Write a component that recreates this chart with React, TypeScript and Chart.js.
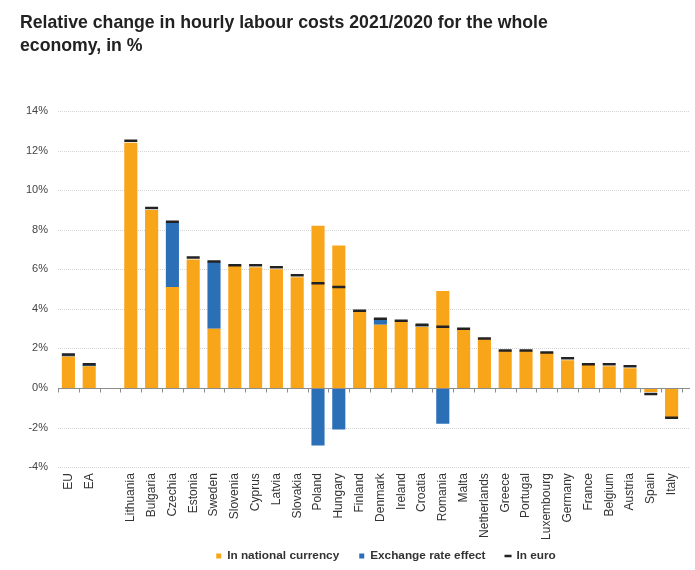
import React, { useEffect, useRef } from 'react';
import { Chart, registerables } from 'chart.js';

Chart.register(...registerables);

const categories = [
  'EU', 'EA', '', 'Lithuania', 'Bulgaria', 'Czechia', 'Estonia', 'Sweden', 'Slovenia',
  'Cyprus', 'Latvia', 'Slovakia', 'Poland', 'Hungary', 'Finland', 'Denmark', 'Ireland',
  'Croatia', 'Romania', 'Malta', 'Netherlands', 'Greece', 'Portugal', 'Luxembourg',
  'Germany', 'France', 'Belgium', 'Austria', 'Spain', 'Italy',
];

const nationalCurrency = [
  1.6, 1.1, null, 12.4, 9.0, 5.1, 6.5, 3.0, 6.2, 6.1, 6.0, 5.6, 8.2, 7.2, 3.9, 3.2, 3.4,
  3.1, 4.9, 3.0, 2.5, 1.9, 1.9, 1.8, 1.4, 1.2, 1.1, 1.0, -0.2, -1.5,
];

const exchangeRateEffect = [
  0.1, 0.1, null, 0, 0, 3.3, 0, 3.4, 0, 0, 0, 0, -2.9, -2.1, 0, 0.3, 0,
  0.1, -1.8, 0, 0, 0, 0, 0, 0, 0, 0, 0, 0, 0,
];

const inEuro = [
  1.7, 1.2, null, 12.5, 9.1, 8.4, 6.6, 6.4, 6.2, 6.2, 6.1, 5.7, 5.3, 5.1, 3.9, 3.5, 3.4,
  3.2, 3.1, 3.0, 2.5, 1.9, 1.9, 1.8, 1.5, 1.2, 1.2, 1.1, -0.3, -1.5,
];

const yMin = -4;
const yMax = 14;
const yStep = 2;

const FONT = '"Liberation Sans", Arial, sans-serif';

// dotted grid lines + zero axis with small tick marks
const axisLines = {
  id: 'axisLines',
  afterLayout(chart: any) {
    // nudge the legend to where it sits in the original
    const lg = chart.legend;
    if (lg) {
      lg.left += 16;
      lg.right += 16;
      lg.top -= 10;
      lg.bottom -= 10;
    }
  },
  beforeDatasetsDraw(chart: any) {
    const { ctx, chartArea, scales } = chart;
    const y = scales.y;
    ctx.save();
    ctx.strokeStyle = '#d4d4d4';
    ctx.lineWidth = 1;
    ctx.setLineDash([1, 1]);
    y.ticks.forEach((t: any) => {
      if (t.value === 0) return;
      const py = Math.round(y.getPixelForValue(t.value)) + 0.5;
      ctx.beginPath();
      ctx.moveTo(chartArea.left, py);
      ctx.lineTo(chartArea.right + 8, py);
      ctx.stroke();
    });
    ctx.restore();
  },
  afterDatasetsDraw(chart: any) {
    const { ctx, chartArea, scales } = chart;
    const x = scales.x;
    const py = Math.round(scales.y.getPixelForValue(0)) + 0.5;
    ctx.save();
    ctx.strokeStyle = '#8c8c8c';
    ctx.lineWidth = 1;
    ctx.beginPath();
    ctx.moveTo(chartArea.left, py);
    ctx.lineTo(chartArea.right + 8, py);
    const w = x.width / categories.length;
    for (let i = 0; i <= categories.length; i++) {
      const px = Math.round(x.left + i * w) + 0.5;
      ctx.moveTo(px, py);
      ctx.lineTo(px, py + 4);
    }
    ctx.stroke();
    ctx.restore();
  },
};

const App = () => {
  const chartRef = useRef<HTMLCanvasElement>(null);

  useEffect(() => {
    document.body.style.margin = '0';
    if (!chartRef.current) return;
    const myChart = new Chart(chartRef.current, {
      type: 'bar',
      data: {
        labels: categories,
        datasets: [
          {
            label: 'In national currency',
            data: nationalCurrency,
            backgroundColor: '#F9A51A',
            borderWidth: 0,
            stack: 'a',
            pointStyle: 'rect',
            categoryPercentage: 1,
            barPercentage: 0.63,
          } as any,
          {
            label: 'Exchange rate effect',
            data: exchangeRateEffect,
            backgroundColor: '#2B6FB7',
            borderWidth: 0,
            stack: 'a',
            pointStyle: 'rect',
            categoryPercentage: 1,
            barPercentage: 0.63,
          },
          {
            type: 'line',
            label: 'In euro',
            data: inEuro,
            showLine: false,
            pointStyle: 'line',
            pointRadius: 6.5,
            pointHoverRadius: 6.5,
            pointBorderWidth: 2.5,
            borderColor: '#222222',
            backgroundColor: '#222222',
            stack: 'euro',
            order: -1,
          },
        ],
      },
      options: {
        animation: false,
        responsive: true,
        maintainAspectRatio: false,
        events: [],
        layout: { padding: { top: 111, right: 13, left: 0, bottom: -12 } },
        scales: {
          x: {
            stacked: true,
            grid: { display: false, drawTicks: false },
            border: { display: false },
            afterFit: (scale: any) => {
              scale.height = 73;
            },
            ticks: {
              autoSkip: false,
              minRotation: 90,
              maxRotation: 90,
              padding: 6,
              color: '#333333',
              font: { family: FONT, size: 12 },
            },
          },
          y: {
            stacked: true,
            min: yMin,
            max: yMax,
            grid: { display: false, drawTicks: false },
            border: { display: false },
            afterFit: (scale: any) => {
              scale.width = 58;
            },
            ticks: {
              stepSize: yStep,
              padding: 10,
              color: '#444444',
              font: { family: FONT, size: 11 },
              callback: (v: any) => v + '%',
            },
          },
        },
        plugins: {
          title: { display: false },
          tooltip: { enabled: false },
          legend: {
            position: 'bottom',
            fullSize: false,
            labels: {
              usePointStyle: true,
              boxWidth: 5,
              boxHeight: 5,
              padding: 20,
              color: '#333333',
              font: { family: FONT, size: 11.8, weight: 'bold' },
              sort: (a: any, b: any) => a.datasetIndex - b.datasetIndex,
            },
          },
        },
      },
      plugins: [axisLines],
    });

    return () => {
      myChart.destroy();
    };
  }, []);

  return (
    <div style={{ position: 'relative', width: 695, height: 570, background: '#fff' }}>
      <div
        style={{
          position: 'absolute',
          left: 20,
          top: 11,
          fontFamily: FONT,
          fontWeight: 'bold',
          fontSize: 17.7,
          lineHeight: '23px',
          color: '#222222',
        }}
      >
        Relative change in hourly labour costs 2021/2020 for the whole
        <br />
        economy, in %
      </div>
      <canvas ref={chartRef} />
    </div>
  );
};

export default App;
